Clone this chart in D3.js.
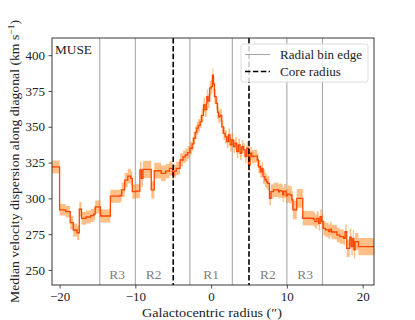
<!DOCTYPE html>
<html><head><meta charset="utf-8">
<script src="https://cdn.jsdelivr.net/npm/d3@7"></script>
<style>
body{margin:0;background:#fff;}
text{font-family:"Liberation Serif","DejaVu Serif",serif;}
</style></head>
<body><svg id="c" width="415" height="320"></svg>
<script>
// radius (arcsec), start of each step
const radius = [-21.0,-20.0,-19.2,-18.6,-18.2,-17.7,-17.4,-17.1,-16.5,-15.9,-15.5,-15.3,-14.6,-13.3,-12.0,-11.8,-11.4,-11.0,-10.6,-10.4,-9.9,-9.4,-9.2,-9.0,-7.9,-7.5,-6.6,-6.0,-5.5,-5.1,-4.9,-4.6,-4.1,-3.7,-3.4,-3.1,-2.8,-2.5,-2.3,-2.1,-1.9,-1.7,-1.45,-1.25,-1.0,-0.8,-0.57,-0.4,-0.2,0.0,0.17,0.3,0.44,0.66,0.85,0.97,1.19,1.41,1.63,1.85,2.07,2.29,2.5,2.73,2.95,3.17,3.39,3.6,3.82,4.05,4.27,4.5,4.7,4.93,5.15,5.37,5.6,6.1,6.25,6.5,6.7,6.85,7.1,7.3,7.44,7.7,7.9,8.23,8.9,9.0,9.3,9.45,9.6,9.9,10.1,10.4,10.66,10.8,11.3,12.1,13.5,13.7,13.96,14.2,14.4,14.6,14.8,15.1,15.5,15.7,15.9,16.6,17.0,17.5,17.7,17.9,18.3,18.5,18.7,18.85,19.0,19.45,21.5];
const dispersion = [322,292,290.7,283,277.9,276,292.4,286,287,288,289,294,287.7,301.5,302,306,312.8,315.6,314,304.7,305,319.8,314,320.3,305.9,319.3,317.5,319,321,316.3,319,321,326.8,329,330.3,332,335,338,342,346,349,351,353.6,358,365.2,362,371,368,377,378,386,380,371,366.4,360,357,358,350,345.4,343,339.6,344.3,337.3,340.8,336.1,338.5,332.6,337.3,331.5,336.1,333.8,329.1,335,323.3,331.5,329.1,329.5,326.8,322.1,318.6,321,315.2,313,311.7,310.5,300,304.7,305.9,304.5,305.4,305,302.4,305,301.7,303,302.4,298.9,291.9,300,286.1,285.5,283.7,286,282.6,287.2,284,279.1,278,276.8,278.5,276.5,274.4,273.3,272.1,276.8,265.1,273,266.3,272,264,269.8,266.3,266.3];
const uncertainty = [4.5,4,4,4.5,4.5,5,5,4.5,4.5,4.5,4.5,4.5,4.5,4.5,4.5,5,5,5,5,5,5,6,6,6,6,5.5,5.5,5,5,4.5,4.5,4.5,4.5,4.5,4.5,4.5,4.5,4.5,4.5,4.5,4.5,4.5,4.5,5,5,5,5,5,5,5,5,5,5,4.5,4.5,4.5,4.5,4.5,4.5,4.5,4.5,4.5,4.5,4.5,4.5,4.5,4.5,4.5,4.5,4.5,4.5,4.5,4.5,4.5,4.5,4.5,4.5,4.5,4.5,4.5,4.5,5,5,5,5,5,5,5,5,5,5,5,5,5,6,6,6,6.5,6.5,5,5,5,5,5,5,5,5,5,5,5,5,5,5,5,5,6,6,6,6,6,6,6,6];
const binEdges = [-14.7,-10,-2.8,2.8,10,14.7];
const coreRadius = [-5,5];
const regionLabels = ["R3","R2","R1","R2","R3"];
const regionPos = [-12.4,-7.6,0,7.5,12.4];
const xTicks = [-20,-10,0,10,20];
const yTicks = [250,275,300,325,350,375,400];

const data = radius.map((r,i)=>({r, v:dispersion[i], e:uncertainty[i]}));
const svg = d3.select("#c");
const L=52,R=374,T=38,B=285;
const x = d3.scaleLinear().domain([-21,21.5]).range([L,R]);
const y = d3.scaleLinear().domain([239.5,412]).range([B,T]);

svg.append("clipPath").attr("id","cp").append("rect").attr("x",L).attr("y",T).attr("width",R-L).attr("height",B-T);
const g = svg.append("g").attr("clip-path","url(#cp)");

g.selectAll("line.bin").data(binEdges).join("line").attr("class","bin")
 .attr("x1",d=>x(d)).attr("x2",d=>x(d)).attr("y1",T).attr("y2",B)
 .attr("stroke","#a8a8a8").attr("stroke-width",1.1);

g.append("path").datum(data)
 .attr("d",d3.area().curve(d3.curveStepAfter).x(d=>x(d.r)).y0(d=>y(d.v-d.e)).y1(d=>y(d.v+d.e)))
 .attr("fill","#ff7f0e").attr("fill-opacity",0.5);
g.append("path").datum(data)
 .attr("d",d3.line().curve(d3.curveStepAfter).x(d=>x(d.r)).y(d=>y(d.v)))
 .attr("fill","none").attr("stroke","#ff4500").attr("stroke-width",1.3);

g.selectAll("line.core").data(coreRadius).join("line").attr("class","core")
 .attr("x1",d=>x(d)).attr("x2",d=>x(d)).attr("y1",T).attr("y2",B)
 .attr("stroke","#000").attr("stroke-width",1.6).attr("stroke-dasharray","5.5,2.4");

svg.selectAll("text.reg").data(regionLabels).join("text").attr("class","reg")
 .attr("x",(d,i)=>x(regionPos[i])).attr("y",279).attr("text-anchor","middle")
 .attr("font-size",13.5).attr("fill","#808080").text(d=>d);

// axes
const xa = svg.append("g").attr("transform",`translate(0,${B})`)
 .call(d3.axisBottom(x).tickValues(xTicks).tickSize(3.5).tickPadding(3.5));
const ya = svg.append("g").attr("transform",`translate(${L},0)`)
 .call(d3.axisLeft(y).tickValues(yTicks).tickSize(3.5).tickPadding(3.5));
[xa,ya].forEach(a=>{a.select(".domain").remove();
 a.selectAll("text").attr("font-size",13).attr("fill","#222").style("font-family","'Liberation Serif',serif");
 a.selectAll("line").attr("stroke","#222").attr("stroke-width",0.8);});
svg.append("rect").attr("x",L).attr("y",T).attr("width",R-L).attr("height",B-T)
 .attr("fill","none").attr("stroke","#222").attr("stroke-width",0.9);

svg.append("text").attr("x",L+3).attr("y",T+16).attr("font-size",13).attr("fill","#222")
 .attr("textLength",37).attr("lengthAdjust","spacingAndGlyphs").text("MUSE");

// legend
const lg = svg.append("g");
lg.append("rect").attr("x",241).attr("y",44).attr("width",127).attr("height",38).attr("rx",2.5)
 .attr("fill","#fff").attr("fill-opacity",0.8).attr("stroke","#d8d8d8").attr("stroke-width",0.9);
lg.append("line").attr("x1",245).attr("x2",270).attr("y1",54.5).attr("y2",54.5).attr("stroke","#a8a8a8").attr("stroke-width",1.1);
lg.append("line").attr("x1",245).attr("x2",270).attr("y1",71.5).attr("y2",71.5).attr("stroke","#000").attr("stroke-width",1.6).attr("stroke-dasharray","5.5,2.4");
lg.append("text").attr("x",280).attr("y",58.5).attr("font-size",12.5).attr("fill","#222")
 .attr("textLength",82).attr("lengthAdjust","spacingAndGlyphs").text("Radial bin edge");
lg.append("text").attr("x",280).attr("y",75.5).attr("font-size",12.5).attr("fill","#222")
 .attr("textLength",61).attr("lengthAdjust","spacingAndGlyphs").text("Core radius");

svg.append("text").attr("x",212).attr("y",317).attr("text-anchor","middle").attr("font-size",13).attr("fill","#222")
 .attr("textLength",140).attr("lengthAdjust","spacingAndGlyphs")
 .text("Galactocentric radius (″)");
const yl = svg.append("text").attr("transform","translate(19,161.5) rotate(-90)").attr("text-anchor","middle").attr("font-size",13).attr("fill","#222")
 .attr("textLength",283).attr("lengthAdjust","spacingAndGlyphs");
yl.append("tspan").text("Median velocity dispersion along diagonal (km s");
yl.append("tspan").attr("baseline-shift","super").attr("font-size",9).text("−1");
yl.append("tspan").text(")");
</script></body></html>
